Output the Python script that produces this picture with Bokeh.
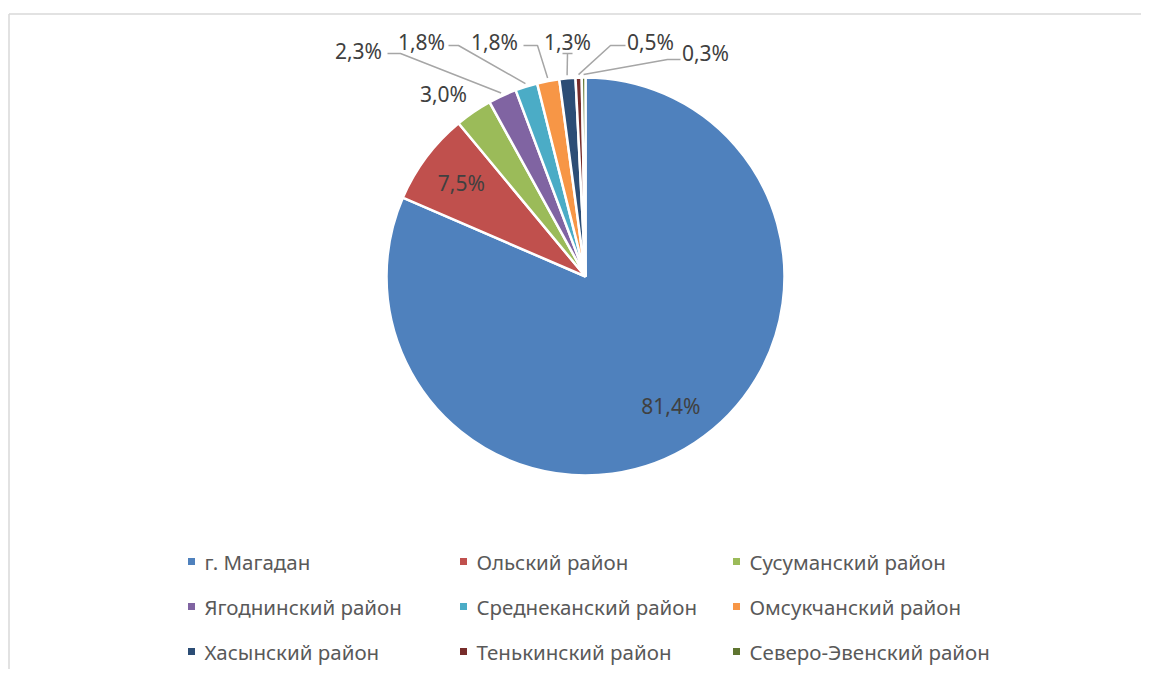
import numpy as np
from bokeh.plotting import figure
from bokeh.models import Range1d, ColumnDataSource
from bokeh.core.properties import value
from bokeh.embed import file_html
from bokeh.resources import INLINE

# ---- data ----
categories = ["г. Магадан", "Ольский район", "Сусуманский район",
              "Ягоднинский район", "Среднеканский район", "Омсукчанский район",
              "Хасынский район", "Тенькинский район", "Северо-Эвенский район"]
shares = [81.4, 7.5, 3.0, 2.3, 1.8, 1.8, 1.3, 0.5, 0.3]
labels = ["81,4%", "7,5%", "3,0%", "2,3%", "1,8%", "1,8%", "1,3%", "0,5%", "0,3%"]
colors = ["#4F81BD", "#C0504D", "#9BBB59", "#8064A2", "#4BACC6",
          "#F79646", "#2C4D75", "#772C2A", "#5F7530"]

W, H = 1141, 669
FONT = "Noto Sans"

def X(ix):
    return ix

def Y(iy):
    return H - iy

p = figure(width=W, height=H, output_backend="svg", toolbar_location=None,
           x_range=Range1d(0, W), y_range=Range1d(0, H), min_border=0)
p.axis.visible = False
p.grid.visible = False
p.outline_line_color = None
p.background_fill_color = "white"

# chart frame
p.segment(x0=[X(8.5), X(8.5)], y0=[Y(13.5), Y(13.5)], x1=[X(8.5), W], y1=[0, Y(13.5)],
          line_color="#D9D9D9", line_width=1.5)

# pie
cx, cy, R = X(585), Y(276), 199
vals = np.array(shares, dtype=float)
frac = vals / vals.sum()
cum = np.concatenate([[0], np.cumsum(frac)])
start = np.pi / 2 - cum[:-1] * 2 * np.pi
end = np.pi / 2 - cum[1:] * 2 * np.pi
mid = (start + end) / 2

src = ColumnDataSource(dict(start=start, end=end, color=colors))
p.wedge(x=cx, y=cy, radius=R, start_angle="start", end_angle="end",
        direction="clock", fill_color="color", line_color="white",
        line_width=2.5, source=src)

LFS = "21px"
# inside labels (two largest)
for i in [0, 1]:
    r = 0.78 * R
    p.text(x=[cx + r * np.cos(mid[i])], y=[cy + r * np.sin(mid[i])], text=[labels[i]],
           text_align="center", text_baseline="middle", text_color="#404040",
           text_font=value(FONT), text_font_size=LFS)

# outside labels: positions (image px) and leader elbows
out_pos = {2: (443, 93), 3: (358, 50), 4: (421, 41), 5: (494, 41),
           6: (567, 41), 7: (650, 41), 8: (705, 52)}
elbows = {3: [(387, 53), (400, 53)], 4: [(448, 45), (458, 45)],
          5: [(523, 45), (537, 45)], 6: [(562, 53), (572, 53)],
          7: [(625, 45), (610, 45)], 8: [(680, 59), (667, 59)]}
for i, (ix, iy) in out_pos.items():
    p.text(x=[X(ix)], y=[Y(iy)], text=[labels[i]], text_align="center",
           text_baseline="middle", text_color="#404040",
           text_font=value(FONT), text_font_size=LFS)
for i, pts in elbows.items():
    rr = R + 3
    ex, ey = cx + rr * np.cos(mid[i]), cy + rr * np.sin(mid[i])
    if i == 6:
        p.line(x=[X(pts[0][0]), X(pts[1][0])], y=[Y(pts[0][1]), Y(pts[1][1])],
               line_color="#A6A6A6", line_width=1.5)
        p.line(x=[X(567), ex], y=[Y(53), ey], line_color="#A6A6A6", line_width=1.5)
    else:
        xs = [X(pts[0][0]), X(pts[1][0]), ex]
        ys = [Y(pts[0][1]), Y(pts[1][1]), ey]
        p.line(x=xs, y=ys, line_color="#A6A6A6", line_width=1.5)

# legend
col_x = [191, 463, 736]
row_y = [561, 606, 651]
lx = [X(col_x[k % 3]) for k in range(len(categories))]
ly = [Y(row_y[k // 3]) for k in range(len(categories))]
p.scatter(x=lx, y=ly, marker="square", size=7, fill_color=colors, line_color=None)
p.text(x=[v + 13 for v in lx], y=ly, text=categories, text_align="left",
       text_baseline="middle", text_color="#595959",
       text_font=value(FONT), text_font_size="20.5px")

open("out.html", "w").write(file_html(p, INLINE))
